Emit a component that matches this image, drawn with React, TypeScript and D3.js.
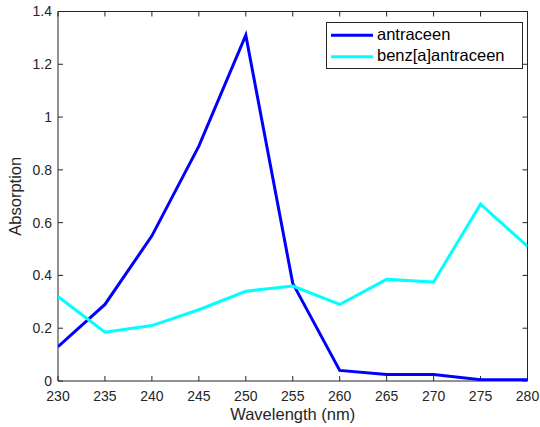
import React from 'react';
import * as d3 from 'd3';

const wavelengths = [230, 235, 240, 245, 250, 255, 260, 265, 270, 275, 280];
const antraceen = [0.13, 0.29, 0.55, 0.89, 1.31, 0.37, 0.04, 0.025, 0.025, 0.005, 0.005];
const benzAntraceen = [0.32, 0.185, 0.21, 0.27, 0.34, 0.36, 0.29, 0.385, 0.375, 0.67, 0.51];
const xTicks = [230, 235, 240, 245, 250, 255, 260, 265, 270, 275, 280];
const yTicks = [0, 0.2, 0.4, 0.6, 0.8, 1, 1.2, 1.4];
const seriesNames = ['antraceen', 'benz[a]antraceen'];
const seriesColors = ['#0000ff', '#00ffff'];

export default function App() {
  const W = 540;
  const H = 427;
  const left = 58;
  const right = 527.5;
  const top = 11.5;
  const bottom = 381;
  const axisColor = '#262626';
  const font = '"Liberation Sans", Arial, sans-serif';

  const x = d3.scaleLinear().domain([230, 280]).range([left, right]);
  const y = d3.scaleLinear().domain([0, 1.4]).range([bottom, top]);

  const line = d3.line<number>()
    .x((_, i) => x(wavelengths[i]))
    .y(d => y(d));

  const series = [antraceen, benzAntraceen];

  return (
    <svg width={W} height={H} style={{ position: 'absolute', left: 0, top: 0, background: '#fff' }}>
      <rect x={0} y={0} width={W} height={H} fill="#fff" />
      <defs>
        <clipPath id="plot">
          <rect x={left} y={top} width={right - left} height={bottom - top} />
        </clipPath>
      </defs>

      {/* ticks on all four sides, pointing inward */}
      {xTicks.map(t => (
        <g key={'xt' + t}>
          <line x1={x(t)} x2={x(t)} y1={bottom} y2={bottom - 5} stroke={axisColor} />
          <line x1={x(t)} x2={x(t)} y1={top} y2={top + 5} stroke={axisColor} />
          <text x={x(t)} y={401} textAnchor="middle" fontSize={14} fontFamily={font} fill={axisColor}>{t}</text>
        </g>
      ))}
      {yTicks.map(t => (
        <g key={'yt' + t}>
          <line x1={left} x2={left + 5} y1={y(t)} y2={y(t)} stroke={axisColor} />
          <line x1={right} x2={right - 5} y1={y(t)} y2={y(t)} stroke={axisColor} />
          <text x={52} y={y(t)} dy="0.35em" textAnchor="end" fontSize={14} fontFamily={font} fill={axisColor}>{t}</text>
        </g>
      ))}

      {/* box */}
      <line x1={left} x2={left} y1={top} y2={bottom} stroke={axisColor} />
      <line x1={left} x2={right} y1={bottom} y2={bottom} stroke={axisColor} />
      <line x1={left} x2={right} y1={top} y2={top} stroke={axisColor} />
      <line x1={right} x2={right} y1={top} y2={bottom} stroke={axisColor} />

      <g clipPath="url(#plot)">
        {series.map((s, i) => (
          <path key={i} d={line(s) || ''} fill="none" stroke={seriesColors[i]} strokeWidth={3} strokeLinejoin="miter" />
        ))}
      </g>

      {/* axis labels */}
      <text x={(left + right) / 2} y={420} textAnchor="middle" fontSize={16.5} fontFamily={font} fill={axisColor}>Wavelength (nm)</text>
      <text transform={`translate(21,${(top + bottom) / 2}) rotate(-90)`} textAnchor="middle" fontSize={16.5} fontFamily={font} fill={axisColor}>Absorption</text>

      {/* legend */}
      <g>
        <rect x={326.5} y={22.5} width={196} height={46} fill="#fff" stroke={axisColor} />
        {seriesNames.map((n, i) => (
          <g key={n}>
            <line x1={331} x2={373} y1={35.3 + i * 21.5} y2={35.3 + i * 21.5} stroke={seriesColors[i]} strokeWidth={3} />
            <text x={377} y={39.8 + i * 21.5} fontSize={16.5} fontFamily={font} fill="#000">{n}</text>
          </g>
        ))}
      </g>
    </svg>
  );
}
